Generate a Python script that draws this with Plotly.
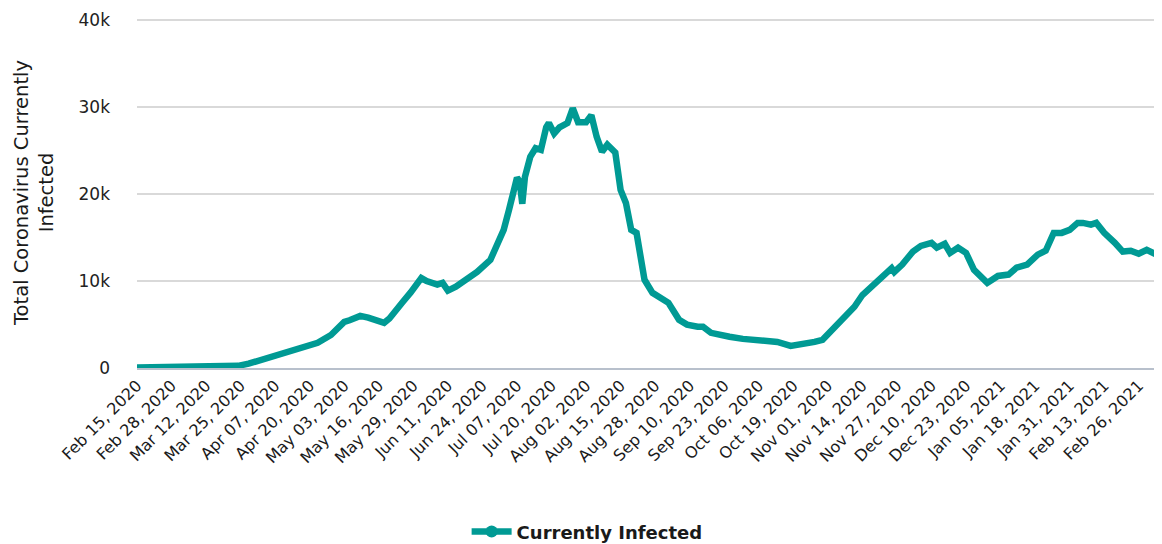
import plotly.graph_objects as go
from datetime import datetime

# ---- data ----
dates = [
    "2020-02-15", "2020-02-25", "2020-03-06", "2020-03-15", "2020-03-24", "2020-03-28",
    "2020-04-02", "2020-04-08", "2020-04-11", "2020-04-18", "2020-04-23", "2020-04-28",
    "2020-05-01", "2020-05-03", "2020-05-05", "2020-05-09", "2020-05-12", "2020-05-15",
    "2020-05-18", "2020-05-20", "2020-05-23", "2020-05-25", "2020-05-28", "2020-05-30",
    "2020-06-01", "2020-06-03", "2020-06-05", "2020-06-07", "2020-06-09", "2020-06-11",
    "2020-06-14", "2020-06-18", "2020-06-22", "2020-06-27", "2020-06-30", "2020-07-02",
    "2020-07-04", "2020-07-06", "2020-07-07", "2020-07-08", "2020-07-09", "2020-07-10",
    "2020-07-12", "2020-07-14", "2020-07-16", "2020-07-18", "2020-07-19", "2020-07-21",
    "2020-07-23", "2020-07-26", "2020-07-27", "2020-07-28", "2020-07-30", "2020-08-02",
    "2020-08-04", "2020-08-06", "2020-08-08", "2020-08-10", "2020-08-13", "2020-08-15",
    "2020-08-17", "2020-08-19", "2020-08-21", "2020-08-24", "2020-08-27", "2020-08-30",
    "2020-09-02", "2020-09-06", "2020-09-09", "2020-09-13", "2020-09-15", "2020-09-18",
    "2020-09-22", "2020-09-25", "2020-09-30", "2020-10-07", "2020-10-13", "2020-10-18",
    "2020-10-22", "2020-10-27", "2020-10-30", "2020-11-03", "2020-11-07", "2020-11-11",
    "2020-11-14", "2020-11-18", "2020-11-23", "2020-11-25", "2020-11-26", "2020-11-29",
    "2020-12-03", "2020-12-06", "2020-12-10", "2020-12-12", "2020-12-15", "2020-12-17",
    "2020-12-20", "2020-12-23", "2020-12-26", "2020-12-29", "2020-12-31", "2021-01-04",
    "2021-01-08", "2021-01-11", "2021-01-15", "2021-01-19", "2021-01-22", "2021-01-25",
    "2021-01-28", "2021-01-31", "2021-02-03", "2021-02-05", "2021-02-08", "2021-02-10",
    "2021-02-13", "2021-02-17", "2021-02-20", "2021-02-23", "2021-02-26", "2021-03-01",
    "2021-03-04", "2021-03-06",
]
currently_infected = [
    50, 60, 100, 150, 250, 500,
    950, 1400, 1650, 2300, 2900, 3800,
    4750, 5300, 5500, 6000, 5800, 5450,
    5200, 5700, 6700, 7600, 8700, 9700,
    10350, 10000, 9800, 9600, 9800, 8900,
    9350, 10150, 11050, 12450, 14400, 15900,
    18200, 20850, 21900, 21500, 18900, 22000,
    24300, 25300, 25100, 27700, 28200, 27000,
    27700, 28200, 29300, 29900, 28300, 28300,
    29100, 26600, 24900, 25700, 24800, 20500,
    19000, 15900, 15550, 10150, 8650, 8100,
    7500, 5550, 5000, 4750, 4750, 4050,
    3700, 3600, 3350, 3250, 3000, 2550,
    2700, 3000, 3250, 4500, 5550, 7050,
    8400, 9550, 11050, 11500, 11050, 11900,
    13400, 14050, 14400, 13850, 14300, 13250,
    13850, 13250, 11300, 10250, 9800, 10600,
    10750, 11550, 11900, 13050, 13500, 15550,
    15550, 15900, 16700, 16700, 16500, 16700,
    15550, 14400, 13400, 13500, 13150, 13600,
    13150, 13150,
]

x_tick_labels = [
    "Feb 15, 2020", "Feb 28, 2020", "Mar 12, 2020", "Mar 25, 2020", "Apr 07, 2020",
    "Apr 20, 2020", "May 03, 2020", "May 16, 2020", "May 29, 2020", "Jun 11, 2020",
    "Jun 24, 2020", "Jul 07, 2020", "Jul 20, 2020", "Aug 02, 2020", "Aug 15, 2020",
    "Aug 28, 2020", "Sep 10, 2020", "Sep 23, 2020", "Oct 06, 2020", "Oct 19, 2020",
    "Nov 01, 2020", "Nov 14, 2020", "Nov 27, 2020", "Dec 10, 2020", "Dec 23, 2020",
    "Jan 05, 2021", "Jan 18, 2021", "Jan 31, 2021", "Feb 13, 2021", "Feb 26, 2021",
]
y_tick_values = [0, 10000, 20000, 30000, 40000]
y_tick_labels = ["0", "10k", "20k", "30k", "40k"]

series_name = "Currently Infected"
y_title = "Total Coronavirus Currently<br>Infected"

# ---- figure ----
x_tick_dates = [datetime.strptime(t, "%b %d, %Y").strftime("%Y-%m-%d") for t in x_tick_labels]

LINE_COLOR = "#009a94"
FONT = "DejaVu Sans"

fig = go.Figure()
fig.add_trace(go.Scatter(
    x=dates, y=currently_infected, mode="lines",
    line=dict(color=LINE_COLOR, width=6.5),
    name=series_name, showlegend=False,
))
fig.add_trace(go.Scatter(
    x=[None], y=[None], mode="lines+markers",
    line=dict(color=LINE_COLOR, width=6.5),
    marker=dict(color=LINE_COLOR, size=12, symbol="circle"),
    name=series_name, showlegend=True,
))

# the page body adds an 8px margin, so the figure is sized to fit the window
fig.update_layout(
    width=1154, height=536,
    margin=dict(l=129, r=2, t=9, b=176, autoexpand=False),
    paper_bgcolor="white", plot_bgcolor="white",
    font=dict(family=FONT, color="#222222", size=16),
    showlegend=True,
    legend=dict(
        orientation="h", x=0.44, xanchor="center", y=-0.467, yanchor="middle",
        font=dict(family=FONT, size=18, color="#1a1a1a", weight="bold"),
        itemwidth=40,
    ),
    xaxis=dict(
        type="date", automargin=False,
        range=[dates[0], dates[-1]],
        tickmode="array", tickvals=x_tick_dates, ticktext=x_tick_labels,
        tickangle=-45, tickfont=dict(family=FONT, size=16, color="#1a1a1a"),
        showgrid=False, zeroline=False,
        showline=True, linecolor="#b8c0cc", linewidth=2,
        ticks="", ticklabelstandoff=0,
    ),
    yaxis=dict(
        automargin=False,
        range=[0, 40400],
        tickmode="array", tickvals=y_tick_values, ticktext=y_tick_labels,
        tickfont=dict(family=FONT, size=17, color="#222222"),
        showgrid=True, gridcolor="#d9d9d9", gridwidth=1.5,
        zeroline=False, showline=False, ticks="",
        ticklabelstandoff=26,
        title=dict(text=y_title, font=dict(family=FONT, size=19.5, color="#1a1a1a"), standoff=19),
    ),
)

fig.write_html("out.html")
